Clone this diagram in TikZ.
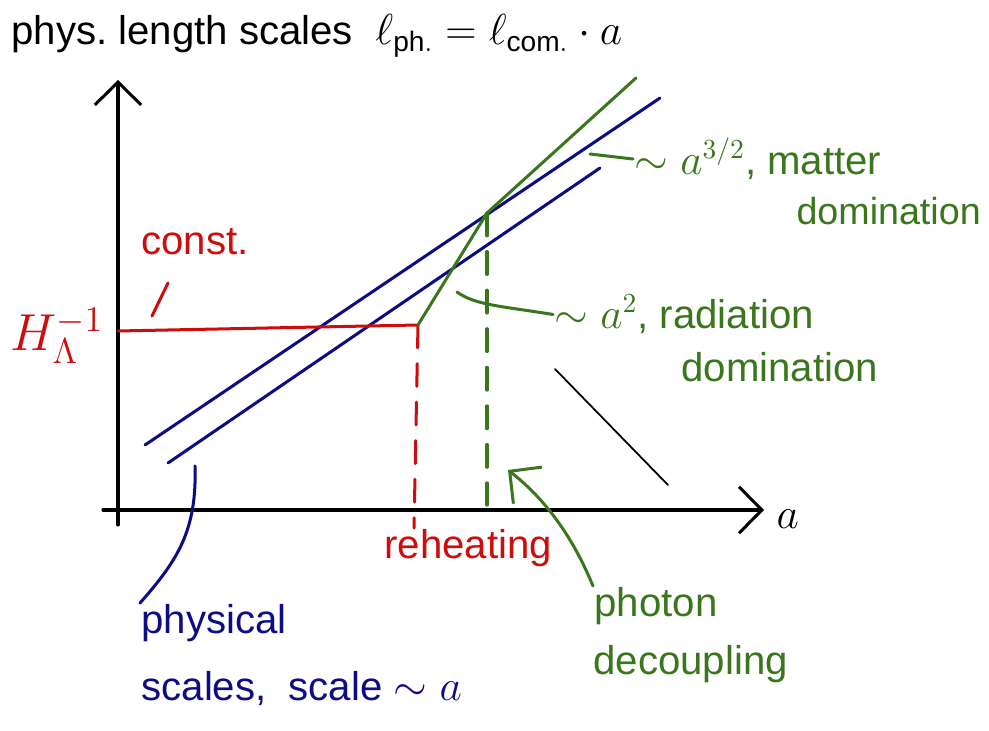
\documentclass[tikz,border=0pt]{standalone}
\usepackage{fontspec}
\setmainfont{Liberation Sans}
\usetikzlibrary{arrows.meta}
\definecolor{hred}{RGB}{205,12,12}
\definecolor{hblue}{RGB}{12,12,135}
\definecolor{hgreen}{RGB}{58,118,28}
\begin{document}
\begin{tikzpicture}[x=0.14mm,y=-0.14mm,line width=1.2pt,line cap=round,line join=round,
    pen/.style={font=\fontsize{16}{19}\selectfont,inner sep=0pt,anchor=mid west},
    hdash/.style={dash pattern=on 3.2mm off 2.2mm},
    vhead/.style={-{Straight Barb[length=3.2mm,width=6.5mm]}}]
    \useasboundingbox (0,0) rectangle (989,731);

    % axes
    \coordinate (ybot) at (118,525);
    \coordinate (ytop) at (118,80);
    \coordinate (xleft) at (103,510);
    \coordinate (xright) at (764,510);
    \draw[vhead] (ybot) -- (ytop);
    \draw[vhead] (xleft) -- (xright);
    \node[pen] (alabel) at (775,522) {$a$};
    \node[pen] (title) at (10,38)
        {phys.\ length scales \ $\ell_{\mathrm{ph.}} = \ell_{\mathrm{com.}}\cdot a$};

    % physical scales
    \coordinate (blueAs) at (145,445);
    \coordinate (blueAe) at (660,98);
    \coordinate (blueBs) at (168,463);
    \coordinate (blueBe) at (600,168);
    \coordinate (bluePin) at (195,466);
    \draw[hblue] (blueAs) -- (blueAe);
    \draw[hblue] (blueBs) -- (blueBe);
    \node[pen,hblue] (physical) at (140,627) {physical};
    \node[pen,hblue] (scales) at (140,694) {scales, \ scale $\sim a$};
    \draw[hblue] (bluePin) .. controls (197,530) and (178,560) .. (physical.north west);

    % Hubble radius during inflation
    \coordinate (hstart) at (118,331);
    \coordinate (reh) at (418,325);
    \coordinate (rehfoot) at (414,528);
    \coordinate (tickA) at (168,283);
    \coordinate (tickB) at (152,316);
    \draw[hred] (hstart) -- (reh);
    \draw[hred,hdash] (reh) -- (rehfoot);
    \node[hred,font=\fontsize{22}{26}\selectfont] (Hinv) at (57,336) {$H_\Lambda^{-1}$};
    \node[pen,hred] (const) at (140,248) {const.};
    \draw[hred] (tickA) -- (tickB);
    \node[pen,hred] (reheating) at (383,552) {reheating};

    % Hubble radius after reheating
    \coordinate (dec) at (487,213);
    \coordinate (gtop) at (636,78);
    \coordinate (decfoot) at (487,505);
    \draw[hgreen] (reh) -- (dec) -- (gtop);
    \draw[hgreen,hdash] (dec) -- (decfoot);
    \node[pen,hgreen] (matter) at (633,168) {$\sim a^{3/2}$, matter};
    \node[pen,hgreen,font=\fontsize{15}{18}\selectfont] (matterdom) at (795,218) {domination};
    \node[pen,hgreen] (rad) at (553,322) {$\sim a^{2}$, radiation};
    \node[pen,hgreen] (raddom) at (680,375) {domination};
    \coordinate (matterpin) at (590,154);
    \coordinate (radpin) at (457,292);
    \draw[hgreen] (matterpin) -- (matter.west);
    \draw[hgreen] (radpin) .. controls (475,305) and (500,306) .. (rad.west);
    \node[pen,hgreen] (photon) at (593,610) {photon};
    \node[pen,hgreen] (decoupling) at (592,668) {decoupling};
    \coordinate (arrtip) at (508,470);
    \draw[hgreen,vhead] (photon.north west) .. controls (570,530) and (540,495) .. (arrtip);

    % stray stroke
    \coordinate (strayA) at (555,369);
    \coordinate (strayB) at (668,485);
    \draw[line width=0.7pt] (strayA) -- (strayB);
\end{tikzpicture}
\end{document}
